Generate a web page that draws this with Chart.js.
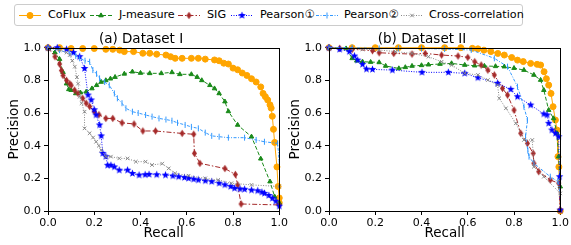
<!DOCTYPE html>
<html>
<head>
<meta charset="utf-8">
<script src="https://cdn.jsdelivr.net/npm/chart.js@4"></script>
<style>
body { margin: 0; background: #fff; width: 571px; height: 245px; position: relative; overflow: hidden; font-family: 'DejaVu Sans', sans-serif; }
#legend { position: absolute; left: 14px; top: 4px; width: 507px; height: 20px; border: 1px solid #ccc; border-radius: 3px; background: #fff; }
.item { position: absolute; top: 0; height: 20px; font-size: 11.2px; line-height: 20px; color: #000; white-space: nowrap; }
.item canvas { position: absolute; top: 5px; }
.item span { position: absolute; top: 0; }
#ca { position: absolute; left: 0; top: 30px; }
#cb { position: absolute; left: 281px; top: 30px; }
</style>
</head>
<body>
<div id="legend"></div>
<canvas id="ca" width="290" height="215"></canvas>
<canvas id="cb" width="290" height="215"></canvas>
<script>
var names = ["CoFlux", "J-measure", "SIG", "Pearson\u2460", "Pearson\u2461", "Cross-correlation"];
var colors = ["#ffa500", "#1a8a1a", "#a52a2a", "#0000ff", "#3399ff", "#888888"];

// dataset I: [recall, precision]
var aCoFlux = [[0,1],[0.05,1],[0.1,0.995],[0.15,0.995],[0.2,0.995],[0.25,0.99],[0.28,0.99],[0.31,0.985],[0.33,0.976],[0.37,0.976],[0.41,0.966],[0.44,0.966],[0.47,0.96],[0.51,0.955],[0.53,0.945],[0.55,0.935],[0.58,0.935],[0.62,0.935],[0.65,0.935],[0.68,0.93],[0.72,0.925],[0.74,0.92],[0.76,0.905],[0.78,0.9],[0.8,0.875],[0.82,0.865],[0.84,0.845],[0.86,0.83],[0.88,0.81],[0.9,0.79],[0.92,0.76],[0.93,0.72],[0.94,0.7],[0.95,0.68],[0.96,0.65],[0.965,0.63],[0.97,0.58],[0.975,0.5],[0.98,0.42],[0.99,0.27],[0.995,0.15],[1.0,0.08],[1.0,0.05]];
var aJ = [[0,1],[0.03,0.97],[0.05,0.93],[0.065,0.85],[0.08,0.78],[0.09,0.745],[0.1,0.74],[0.12,0.72],[0.14,0.725],[0.165,0.73],[0.19,0.75],[0.21,0.77],[0.23,0.79],[0.25,0.8],[0.27,0.81],[0.29,0.82],[0.33,0.84],[0.365,0.853],[0.4,0.845],[0.44,0.843],[0.49,0.843],[0.536,0.849],[0.57,0.837],[0.62,0.837],[0.645,0.82],[0.665,0.8],[0.7,0.77],[0.72,0.75],[0.74,0.72],[0.765,0.67],[0.78,0.61],[0.82,0.527],[0.88,0.455],[0.92,0.32],[0.96,0.18],[0.98,0.088],[1.0,0.05]];
var aSIG = [[0,1],[0.03,0.945],[0.05,0.9],[0.058,0.86],[0.065,0.83],[0.08,0.8],[0.094,0.78],[0.1,0.77],[0.115,0.74],[0.13,0.72],[0.15,0.69],[0.165,0.66],[0.18,0.64],[0.2,0.61],[0.22,0.59],[0.25,0.567],[0.28,0.567],[0.32,0.54],[0.372,0.533],[0.41,0.49],[0.465,0.49],[0.58,0.475],[0.63,0.47],[0.633,0.353],[0.657,0.292],[0.765,0.26],[0.81,0.224],[0.82,0.16],[0.835,0.043],[1.0,0.037]];
var aP1 = [[0,1],[0.04,1],[0.08,0.99],[0.11,0.97],[0.137,0.945],[0.158,0.873],[0.173,0.71],[0.187,0.68],[0.2,0.62],[0.208,0.588],[0.223,0.527],[0.23,0.46],[0.237,0.353],[0.25,0.333],[0.258,0.28],[0.272,0.28],[0.287,0.27],[0.308,0.25],[0.344,0.25],[0.365,0.23],[0.394,0.22],[0.42,0.222],[0.437,0.224],[0.47,0.222],[0.508,0.22],[0.54,0.215],[0.565,0.21],[0.59,0.205],[0.608,0.2],[0.63,0.195],[0.65,0.19],[0.68,0.185],[0.708,0.18],[0.74,0.17],[0.765,0.16],[0.79,0.15],[0.807,0.139],[0.83,0.135],[0.85,0.133],[0.88,0.128],[0.907,0.124],[0.925,0.115],[0.936,0.108],[0.955,0.095],[0.97,0.078],[0.985,0.06],[1.0,0.03]];
var aP2 = [[0,1],[0.05,0.985],[0.094,0.965],[0.12,0.95],[0.137,0.935],[0.16,0.92],[0.18,0.914],[0.194,0.863],[0.21,0.84],[0.223,0.812],[0.245,0.79],[0.265,0.77],[0.287,0.72],[0.3,0.69],[0.32,0.66],[0.337,0.629],[0.365,0.608],[0.39,0.6],[0.422,0.588],[0.45,0.578],[0.48,0.567],[0.51,0.56],[0.536,0.553],[0.56,0.54],[0.593,0.527],[0.62,0.515],[0.65,0.506],[0.68,0.48],[0.708,0.46],[0.74,0.455],[0.78,0.449],[0.85,0.449],[0.9,0.435],[0.936,0.424],[0.993,0.414],[1.0,0.3]];
var aCC = [[0,1],[0.05,0.985],[0.08,0.97],[0.094,0.955],[0.105,0.92],[0.116,0.884],[0.125,0.82],[0.13,0.78],[0.137,0.7],[0.145,0.66],[0.158,0.608],[0.158,0.506],[0.18,0.476],[0.195,0.45],[0.208,0.424],[0.22,0.4],[0.23,0.373],[0.25,0.333],[0.272,0.333],[0.308,0.322],[0.344,0.322],[0.38,0.302],[0.422,0.302],[0.45,0.282],[0.494,0.29],[0.522,0.261],[0.55,0.231],[0.608,0.216],[0.68,0.2],[0.736,0.19],[0.793,0.17],[0.88,0.16],[1.0,0.15]];

// dataset II
var bCoFlux = [[0,1],[0.1,1],[0.2,1],[0.3,1],[0.4,1],[0.5,1],[0.57,1],[0.62,0.996],[0.644,0.993],[0.67,0.985],[0.7,0.976],[0.73,0.965],[0.758,0.955],[0.79,0.94],[0.815,0.924],[0.84,0.915],[0.872,0.904],[0.9,0.898],[0.915,0.894],[0.93,0.853],[0.94,0.81],[0.95,0.771],[0.96,0.72],[0.969,0.639],[0.979,0.557],[0.986,0.496],[0.99,0.333],[0.994,0.27],[1.0,0.0]];
var bJ = [[0,1],[0.074,0.995],[0.1,0.935],[0.12,0.92],[0.145,0.914],[0.18,0.912],[0.217,0.91],[0.245,0.888],[0.302,0.873],[0.33,0.88],[0.359,0.888],[0.4,0.892],[0.43,0.896],[0.48,0.9],[0.53,0.904],[0.587,0.894],[0.63,0.89],[0.672,0.888],[0.72,0.886],[0.758,0.884],[0.8,0.875],[0.843,0.863],[0.886,0.833],[0.915,0.802],[0.929,0.74],[0.95,0.618],[0.971,0.567],[0.986,0.476],[0.993,0.333],[1.0,0.149]];
var bSIG = [[0,1],[0.046,0.996],[0.1,0.99],[0.188,0.982],[0.217,0.969],[0.28,0.965],[0.359,0.961],[0.416,0.965],[0.487,0.955],[0.558,0.949],[0.6,0.941],[0.63,0.914],[0.658,0.894],[0.687,0.863],[0.715,0.833],[0.75,0.751],[0.772,0.71],[0.8,0.618],[0.829,0.476],[0.858,0.414],[0.883,0.353],[0.886,0.292],[0.907,0.241],[0.957,0.19],[0.993,0.17],[1.0,0.006]];
var bP1 = [[0,1],[0.046,0.99],[0.088,0.976],[0.11,0.949],[0.124,0.924],[0.145,0.898],[0.162,0.869],[0.188,0.867],[0.274,0.863],[0.402,0.849],[0.516,0.849],[0.587,0.843],[0.644,0.816],[0.729,0.782],[0.786,0.745],[0.815,0.7],[0.872,0.649],[0.929,0.594],[0.943,0.588],[0.95,0.537],[0.964,0.496],[0.979,0.476],[0.993,0.455],[0.997,0.21],[1.0,0.006]];
var bP2 = [[0,1],[0.1,1],[0.217,0.996],[0.3,0.996],[0.4,0.995],[0.5,0.992],[0.615,0.986],[0.715,0.935],[0.772,0.884],[0.815,0.761],[0.843,0.639],[0.858,0.557],[0.85,0.455],[0.86,0.37],[0.865,0.333],[0.886,0.292],[0.957,0.21],[0.99,0.18],[1.0,0.1]];
var bCC = [[0,1],[0.145,0.99],[0.217,0.986],[0.288,0.976],[0.359,0.965],[0.43,0.945],[0.487,0.914],[0.53,0.894],[0.587,0.843],[0.644,0.833],[0.687,0.802],[0.729,0.771],[0.736,0.69],[0.765,0.629],[0.808,0.537],[0.843,0.435],[0.879,0.435],[0.886,0.271],[0.929,0.21],[1.0,0.108]];

var xTicks = [0, 0.2, 0.4, 0.6, 0.8, 1.0];
var yTicks = [0, 0.2, 0.4, 0.6, 0.8, 1.0];

var dashes = [[], [4, 2], [5, 2, 1.5, 2], [1, 1.5], [3, 1.5, 1, 1.5], [1, 1.5]];

function markerCanvas(kind, color) {
  var c = document.createElement('canvas');
  c.width = 9; c.height = 9;
  var g = c.getContext('2d');
  g.fillStyle = color;
  g.beginPath();
  if (kind == 'star') {
    for (var i = 0; i < 10; i++) {
      var r = i % 2 == 0 ? 4 : 1.7;
      var a = -Math.PI / 2 + i * Math.PI / 5;
      g.lineTo(4.5 + r * Math.cos(a), 4.5 + r * Math.sin(a));
    }
  } else {
    g.moveTo(4.5, 0.8); g.lineTo(7, 4.5); g.lineTo(4.5, 8.2); g.lineTo(2, 4.5);
  }
  g.closePath();
  g.fill();
  return c;
}

var styles = [
  { pointStyle: 'circle', radius: 3 },
  { pointStyle: 'triangle', radius: 2.6 },
  { pointStyle: markerCanvas('diamond', colors[2]), radius: 3 },
  { pointStyle: markerCanvas('star', colors[3]), radius: 3 },
  { pointStyle: 'line', radius: 3, rotation: 90 },
  { pointStyle: 'crossRot', radius: 2.5 }
];

function makeSets(list) {
  return list.map(function (pts, i) {
    return {
      label: names[i],
      data: pts.map(function (p) { return { x: p[0], y: p[1] }; }),
      showLine: true,
      borderColor: colors[i],
      backgroundColor: colors[i],
      borderWidth: 1,
      borderDash: dashes[i],
      pointStyle: styles[i].pointStyle,
      pointRadius: styles[i].radius,
      pointRotation: styles[i].rotation || 0,
      pointBorderWidth: 1,
      clip: 4,
      order: 6 - i
    };
  });
}

var frame = {
  id: 'frame',
  afterDraw: function (chart) {
    var a = chart.chartArea, g = chart.ctx;
    g.save();
    g.strokeStyle = '#000';
    g.lineWidth = 1;
    g.strokeRect(Math.round(a.left) + 0.5, Math.round(a.top) + 0.5, Math.round(a.right - a.left), Math.round(a.bottom - a.top));
    g.restore();
  }
};

function makeChart(id, title, list) {
  var font = { family: 'DejaVu Sans', size: 11 };
  return new Chart(document.getElementById(id), {
    type: 'scatter',
    data: { datasets: makeSets(list) },
    options: {
      responsive: false,
      devicePixelRatio: 1,
      animation: false,
      layout: { padding: { right: 8 } },
      plugins: {
        legend: { display: false },
        tooltip: { enabled: false },
        title: { display: true, text: title, color: '#000', font: { family: 'DejaVu Sans', size: 13.5, weight: 'normal' }, padding: { top: 1.5, bottom: 0 } }
      },
      scales: {
        x: {
          min: 0, max: 1,
          afterFit: function (s) { s.height = 34; },
          afterBuildTicks: function (s) { s.ticks = xTicks.map(function (v) { return { value: v }; }); },
          ticks: { color: '#000', font: font, padding: 2, maxRotation: 0, callback: function (v) { return v.toFixed(1); } },
          grid: { display: true, drawOnChartArea: false, tickLength: 4, color: '#000' },
          border: { color: '#000' },
          title: { display: true, text: 'Recall', color: '#000', font: { family: 'DejaVu Sans', size: 13.5 }, padding: { top: 0, bottom: 3 } }
        },
        y: {
          min: 0, max: 1,
          afterFit: function (s) { s.width = 48; },
          afterBuildTicks: function (s) { s.ticks = yTicks.map(function (v) { return { value: v }; }); },
          ticks: { color: '#000', font: font, padding: 3, callback: function (v) { return v.toFixed(1); } },
          grid: { display: true, drawOnChartArea: false, tickLength: 4, color: '#000' },
          border: { color: '#000' },
          title: { display: true, text: 'Precision', color: '#000', font: { family: 'DejaVu Sans', size: 13.5 }, padding: { top: 6.5, bottom: 0 } }
        }
      }
    },
    plugins: [frame]
  });
}

makeChart('ca', '(a) Dataset I', [aCoFlux, aJ, aSIG, aP1, aP2, aCC]);
makeChart('cb', '(b) Dataset II', [bCoFlux, bJ, bSIG, bP1, bP2, bCC]);

// legend
var handleX = [3, 74, 162, 215, 300, 385];
var legend = document.getElementById('legend');
names.forEach(function (n, i) {
  var d = document.createElement('div');
  d.className = 'item';
  d.style.left = handleX[i] + 'px';
  var c = document.createElement('canvas');
  c.width = 24; c.height = 10;
  c.style.left = '0px';
  var g = c.getContext('2d');
  g.strokeStyle = colors[i];
  g.fillStyle = colors[i];
  g.lineWidth = 1;
  g.setLineDash(dashes[i]);
  g.beginPath(); g.moveTo(1, 5.5); g.lineTo(23, 5.5); g.stroke();
  g.setLineDash([]);
  var st = styles[i].pointStyle;
  if (typeof st !== 'string') {
    g.drawImage(st, 12 - 4.5, 5.5 - 4.5);
  } else {
    Chart.helpers.drawPoint(g, { pointStyle: st, radius: styles[i].radius, rotation: styles[i].rotation || 0, borderWidth: 1 }, 12, 5.5);
    if (st == 'circle' || st == 'triangle') g.fill();
  }
  d.appendChild(c);
  var s = document.createElement('span');
  s.style.left = i < 4 ? '30px' : '29px';
  s.textContent = n;
  d.appendChild(s);
  legend.appendChild(d);
});
</script>
</body>
</html>
